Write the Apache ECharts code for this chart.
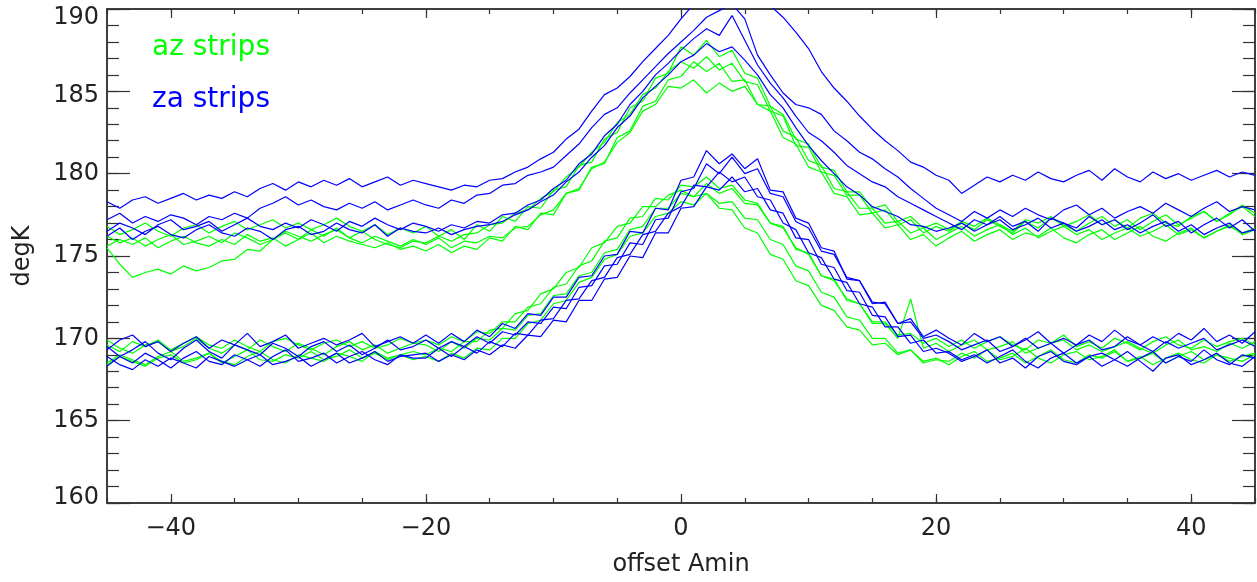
<!DOCTYPE html>
<html>
<head>
<meta charset="utf-8">
<script src="https://cdn.jsdelivr.net/npm/echarts@6/dist/echarts.min.js"></script>
<style>
html,body{margin:0;padding:0;background:#fff;}
#chart{width:1257px;height:582px;}
</style>
</head>
<body>
<div id="chart"></div>
<script>
// Sample offsets (arcmin) along each strip, -45 .. 45 step 1
const offsets = Array.from({length: 91}, (_, i) => i - 45);

// Lower set of strips (degK)
const azLow1 = [169.6,169.2,169.8,169.5,169.9,169.3,169.7,170.1,169.6,169.4,169.9,169.5,169.2,169.8,170.0,169.6,169.3,169.7,169.9,169.5,169.8,169.4,169.6,170.0,169.7,
169.9,169.6,170.1,169.8,170.4,170.3,171.0,171.0,171.9,172.1,173.1,173.3,174.4,174.7,175.9,176.1,177.3,177.4,178.5,178.4,
179.3,179.2,179.8,179.1,179.3,178.4,178.2,177.0,176.7,175.5,175.1,173.8,173.5,172.4,172.1,171.0,171.0,170.2,170.3,169.7,170.0,
169.5,169.9,169.4,169.8,170.1,169.6,169.3,169.9,169.7,170.2,169.5,169.8,169.4,170.0,169.7,169.3,169.8,170.1,169.6,169.4,169.9,169.5,169.8,170.0,169.6];
const azLow2 = [168.5,169.0,168.7,168.4,168.9,169.2,168.6,168.8,169.1,168.5,168.9,169.3,168.7,168.6,169.0,168.8,169.2,168.7,168.9,169.3,168.8,169.1,168.7,169.0,169.2,
169.0,169.4,169.2,169.8,169.8,170.5,170.6,171.5,171.7,172.7,173.0,174.0,174.3,175.5,175.8,176.8,177.0,178.0,178.0,178.7,
179.0,178.6,178.8,177.9,177.8,176.7,176.4,175.1,174.8,173.5,173.2,172.0,171.7,170.7,170.5,169.6,169.7,169.0,169.3,168.6,168.8,
168.4,168.9,169.2,168.6,168.8,169.1,168.5,168.9,169.3,168.7,168.5,169.0,168.8,169.2,168.6,168.9,168.4,168.8,169.1,168.7,168.5,169.0,168.8,168.6,169.0];
const azLow3 = [169.9,169.4,169.1,169.6,169.8,169.2,169.5,170.0,169.4,169.1,169.6,169.3,169.9,169.5,169.2,169.7,169.4,169.0,169.5,169.8,169.3,169.6,169.1,169.4,169.7,
169.6,169.2,169.8,169.4,170.0,169.9,170.6,170.5,171.4,171.5,172.6,172.7,173.8,174.0,175.2,175.4,176.6,176.8,177.9,177.9,
178.8,178.6,179.4,178.8,179.1,178.2,178.1,177.0,176.8,175.4,175.2,173.8,173.6,172.3,172.1,170.9,170.9,170.0,172.4,169.4,169.7,
169.2,169.6,169.9,169.3,169.5,169.8,169.1,169.4,169.7,169.9,169.3,169.6,169.2,169.5,169.8,169.4,169.1,169.6,169.9,169.3,169.5,169.2,169.7,169.4,169.8];
const azLow4 = [168.4,168.9,168.6,168.3,168.8,169.0,168.5,168.7,169.1,168.6,168.4,168.9,169.2,168.7,168.5,169.0,168.8,168.6,169.1,168.9,168.6,169.2,168.8,169.0,168.7,
168.9,168.6,169.1,168.8,169.4,169.3,170.0,170.0,170.9,171.1,172.1,172.3,173.4,173.7,174.8,175.1,176.2,176.4,177.4,177.6,
178.3,178.1,178.8,178.2,178.3,177.3,177.2,176.0,175.7,174.4,174.1,172.8,172.5,171.3,171.1,170.0,170.0,169.1,169.3,168.5,168.7,
168.6,169.1,168.8,169.3,168.7,168.9,169.4,168.8,168.5,169.0,169.2,168.7,168.9,169.3,168.6,168.8,169.1,168.5,168.9,169.2,168.7,169.0,168.6,168.9,169.1];
const zaLow1 = [169.5,168.9,169.3,169.8,169.1,168.7,169.4,169.9,169.2,168.8,169.6,169.3,169.0,169.7,169.4,168.9,169.5,169.8,169.2,169.6,169.0,169.4,169.9,169.3,169.5,
169.9,169.4,169.8,169.5,170.1,169.7,170.4,170.2,171.0,170.9,171.9,171.8,173.1,173.2,174.4,174.5,175.8,175.7,177.2,177.3,
178.9,179.1,180.6,180.0,181.0,180.0,180.3,178.8,178.6,177.1,176.7,175.3,175.1,173.7,173.5,172.2,172.1,170.9,171.0,170.0,170.2,
169.8,169.3,169.6,169.9,169.2,169.5,170.0,169.4,169.7,169.1,169.6,169.9,169.3,169.5,170.1,169.6,169.2,169.8,169.4,169.7,170.0,169.3,169.6,169.9,169.5];
const zaLow2 = [168.3,168.9,168.5,169.1,168.7,168.2,168.8,169.2,168.6,168.4,169.0,168.7,168.3,168.9,169.3,168.6,168.8,169.1,168.5,168.9,169.2,168.7,168.4,169.0,168.8,
168.8,169.4,168.9,169.5,169.1,169.8,169.5,170.3,170.2,171.1,171.2,172.3,172.4,173.5,173.7,174.9,175.1,176.3,176.5,177.6,
178.0,179.3,179.2,180.1,179.5,179.8,178.6,178.4,177.0,176.6,175.2,174.9,173.6,173.4,172.1,171.9,170.7,170.7,169.7,169.9,169.1,
169.2,168.7,169.0,168.5,168.9,169.3,168.6,168.2,168.8,169.1,168.5,168.9,168.3,168.7,169.2,168.6,168.0,168.8,169.0,168.4,168.7,169.1,168.5,168.3,168.9];
const zaLow3 = [169.3,169.9,170.2,169.5,169.8,169.2,169.7,170.1,169.4,169.9,169.6,170.3,169.5,169.8,170.2,169.4,169.7,170.0,169.6,169.9,170.3,169.5,169.8,170.1,169.7,
170.2,169.7,170.3,169.8,170.5,170.1,170.9,170.6,171.5,171.4,172.5,172.5,173.7,173.8,175.0,175.1,176.5,176.4,177.9,177.8,
179.6,179.8,181.4,180.6,181.2,180.3,180.9,179.0,178.9,177.3,177.0,175.5,175.3,173.6,173.5,172.1,172.2,170.9,171.2,170.1,170.5,
170.0,169.6,170.3,169.8,170.1,169.5,169.9,170.4,169.7,170.0,169.6,170.2,169.8,170.5,169.9,169.6,170.1,169.7,170.3,169.9,170.6,169.8,170.2,169.7,170.4];
const zaLow4 = [168.9,168.4,168.1,168.7,168.3,168.8,168.5,168.2,168.9,168.6,168.3,168.7,169.0,168.4,168.6,168.9,168.3,168.7,169.1,168.5,168.8,169.2,168.6,168.9,169.0,
169.1,168.6,169.0,168.7,169.3,169.0,169.6,169.4,170.2,170.1,171.1,171.0,172.3,172.3,173.6,173.7,175.0,174.9,176.4,176.4,
177.9,178.0,179.2,179.0,179.8,178.9,179.1,177.8,177.6,176.1,176.0,174.5,174.3,172.9,172.8,171.4,171.3,170.1,170.2,169.2,169.4,
169.1,168.6,168.9,169.3,168.5,168.8,168.2,168.9,169.2,168.6,168.4,168.9,169.1,168.7,168.3,168.8,169.2,168.5,168.9,168.6,169.3,168.7,168.4,169.0,168.8];

// Upper set of strips (degK)
const azHigh1 = [176.8,176.3,176.6,177.0,176.5,176.2,176.7,176.9,176.4,176.8,177.1,176.6,176.9,177.2,176.7,177.0,176.6,176.9,177.3,176.8,176.5,176.9,176.3,176.7,176.4,
176.8,176.2,176.6,176.0,176.9,176.5,177.4,177.1,178.0,177.9,179.0,179.2,180.5,180.7,182.1,182.5,184.0,184.4,185.8,186.1,
187.7,187.2,188.1,187.1,187.5,186.1,185.8,184.1,183.6,182.1,181.8,180.4,180.2,178.9,178.9,177.9,178.1,177.1,177.4,176.7,177.0,
176.6,177.1,176.8,177.3,176.9,176.5,177.2,177.0,177.4,176.8,177.1,177.5,176.9,177.2,176.7,177.3,177.6,177.0,176.8,177.4,177.7,177.1,177.5,178.1,177.6];
const azHigh2 = [176.2,175.8,176.1,175.6,176.0,176.3,175.7,175.9,176.2,175.8,176.4,176.1,175.7,176.0,176.5,176.2,175.9,176.3,176.6,176.1,175.8,176.2,175.9,175.6,176.0,
175.7,176.1,175.5,175.9,175.8,176.2,176.1,176.7,176.8,177.5,177.8,178.8,179.1,180.3,180.7,181.9,182.5,183.8,184.2,185.3,
185.2,185.7,184.9,185.5,185.0,185.3,184.2,184.1,182.6,182.2,180.8,180.5,179.1,178.9,177.9,177.9,177.0,177.1,176.4,176.7,176.0,
176.4,176.8,176.2,176.6,176.9,176.3,176.7,176.1,176.5,176.8,176.3,176.6,176.0,176.4,176.7,176.2,176.5,176.9,176.3,176.6,176.1,176.5,176.8,176.4,176.7];
const azHigh3 = [175.6,176.0,175.7,176.1,175.5,175.9,176.2,175.8,175.6,176.0,175.7,176.3,175.9,176.1,175.6,176.0,176.4,175.8,176.2,175.9,175.7,175.5,175.8,175.4,175.6,
175.3,175.7,175.2,175.6,175.4,176.1,175.9,176.8,176.6,177.6,177.5,178.8,179.0,180.4,180.6,182.2,182.6,184.1,184.4,185.7,
185.9,186.8,186.2,186.7,185.6,185.7,184.2,183.8,182.2,181.8,180.4,180.1,178.8,178.6,177.5,177.6,176.7,176.9,176.0,176.3,175.6,
176.1,176.5,175.9,176.3,176.6,176.0,176.4,176.2,176.7,176.1,175.8,176.3,176.6,176.0,176.4,176.8,176.2,175.9,176.4,176.7,176.1,176.5,176.9,176.3,176.6];
const azHigh4 = [175.5,174.5,173.7,174.0,174.2,173.9,174.4,174.1,174.3,174.7,174.8,175.4,175.3,176.0,176.4,176.0,176.6,176.2,176.7,176.1,176.5,176.0,175.7,175.5,175.9,
175.8,176.2,175.9,176.3,176.4,176.9,177.0,177.6,177.8,178.5,178.9,179.8,180.4,181.3,181.9,183.1,183.6,184.8,185.2,186.2,
186.8,186.4,187.1,186.3,186.7,185.6,185.4,183.8,183.5,181.7,181.6,180.1,179.9,178.7,178.7,177.6,177.8,176.9,177.2,176.4,176.8,
176.5,177.0,176.6,177.2,176.8,176.4,177.1,176.7,177.3,176.9,176.5,177.0,177.4,176.8,177.2,176.6,177.1,177.5,176.9,177.3,177.7,177.1,177.6,178.0,177.4];
const zaHigh1 = [178.3,177.9,178.4,178.6,178.2,178.5,178.8,178.4,178.7,178.5,178.9,178.6,179.1,179.4,179.0,179.5,179.2,179.6,179.3,179.7,179.2,179.5,179.8,179.3,179.6,
179.4,179.2,179.0,179.3,179.2,179.6,179.7,180.1,180.4,180.9,181.3,182.1,182.7,183.8,184.8,185.2,185.9,186.8,187.6,188.4,
189.4,190.3,190.6,190.4,190.9,190.5,190.7,190.2,189.5,188.6,187.6,186.2,185.2,184.4,183.5,182.7,182.0,181.4,180.7,180.4,179.9,
179.6,178.8,179.3,179.8,179.5,179.9,179.6,180.1,179.7,179.5,179.9,180.2,179.6,180.3,179.8,179.5,180.1,179.7,180.0,179.6,179.9,180.2,179.8,180.1,179.9];
const zaHigh2 = [177.2,177.6,177.0,177.4,177.1,177.5,177.3,176.9,177.4,177.2,177.6,177.3,177.9,178.2,178.6,178.1,178.4,178.0,177.8,178.2,177.9,178.3,177.8,178.1,178.4,
178.1,177.9,178.4,178.2,178.7,178.8,179.3,179.4,179.9,180.1,180.4,181.1,181.8,182.8,183.6,184.0,184.9,185.7,186.5,187.3,
188.0,188.7,189.5,189.9,190.3,189.4,187.2,186.0,184.9,184.2,184.0,183.6,182.6,182.0,181.3,180.9,180.3,179.8,179.1,178.5,177.9,
177.5,177.1,177.7,177.3,177.8,177.4,177.9,177.5,177.2,177.8,178.1,177.5,177.9,177.3,177.7,178.0,177.6,178.2,177.8,177.4,177.9,178.3,177.7,178.0,177.8];
const zaHigh3 = [176.5,177.0,176.7,176.3,176.9,177.2,176.6,176.8,177.1,176.5,176.9,177.3,176.8,176.6,177.0,176.7,177.2,176.9,176.5,177.1,176.8,177.3,176.9,176.6,177.0,
176.8,176.5,176.9,176.7,177.1,177.0,177.5,177.6,178.1,178.4,179.1,179.6,180.6,181.2,182.3,183.0,184.2,185.0,186.0,186.7,
187.5,188.2,188.8,188.4,189.6,188.1,186.6,185.5,184.6,183.5,182.5,182.0,181.3,180.5,180.0,179.5,179.2,178.6,178.2,177.8,177.4,
177.0,176.6,177.2,176.9,177.4,176.8,177.1,176.5,177.3,177.0,176.7,177.4,176.9,177.2,176.6,177.0,177.5,176.8,177.1,176.4,176.9,177.3,176.7,177.2,176.5];
const zaHigh4 = [176.2,176.7,176.0,176.5,176.8,176.3,176.1,176.6,176.9,176.4,176.2,176.7,176.5,176.0,176.6,176.8,176.3,176.5,177.0,176.6,176.4,176.9,176.2,176.7,176.5,
176.4,176.7,176.3,176.6,176.8,176.9,177.1,177.5,177.8,178.3,178.7,179.5,180.1,181.0,181.7,182.8,183.5,184.6,185.3,186.0,
186.8,187.2,187.9,187.4,187.7,186.9,186.0,184.8,184.0,182.8,181.7,180.8,180.0,179.2,178.7,178.0,177.7,177.4,176.9,176.8,176.5,
176.7,177.0,176.5,176.9,177.2,176.6,176.9,177.3,176.7,177.0,176.5,176.8,177.2,176.6,176.9,176.4,176.8,177.1,176.5,176.9,176.3,176.7,177.0,176.4,176.6];

const azStrips = [azLow1, azLow2, azLow3, azLow4, azHigh1, azHigh2, azHigh3, azHigh4];
const zaStrips = [zaLow1, zaLow2, zaLow3, zaLow4, zaHigh1, zaHigh2, zaHigh3, zaHigh4];

// Axis tick values
const xMajorTicks = [-40, -20, 0, 20, 40];
const legendLabels = ['az strips', 'za strips'];

const GREEN = '#00ff00';
const BLUE = '#0000ff';
const AXIS = '#333333';
const TEXT = '#222222';
const FONT = "'DejaVu Sans ExtraLight', 'DejaVu Sans'";

function pairs(ys) { return offsets.map((x, i) => [x, ys[i]]); }

const series = [];
azStrips.forEach((s, k) => series.push({
  type: 'line', name: 'az' + k, data: pairs(s), showSymbol: false, symbol: 'none',
  lineStyle: {color: GREEN, width: 1.2}, itemStyle: {color: GREEN},
  xAxisIndex: 0, yAxisIndex: 0, animation: false, silent: true, clip: true
}));
zaStrips.forEach((s, k) => series.push({
  type: 'line', name: 'za' + k, data: pairs(s), showSymbol: false, symbol: 'none',
  lineStyle: {color: BLUE, width: 1.2}, itemStyle: {color: BLUE},
  xAxisIndex: 0, yAxisIndex: 0, animation: false, silent: true, clip: true
}));

const lineStyle = {color: AXIS, width: 1.5};
const noSplit = {show: false};

function xAx(pos, minor, withLabels) {
  const a = {
    type: 'value', position: pos, min: -45, max: 45,
    splitLine: noSplit,
    axisLine: {show: true, onZero: false, lineStyle: lineStyle},
    axisTick: {show: true, inside: true, lineStyle: {color: AXIS, width: 1.2}},
    axisLabel: {show: false}
  };
  if (minor) {
    a.interval = 5;
    a.axisTick.length = 5;
  } else {
    a.axisTick.length = 9;
    a.axisTick.customValues = xMajorTicks;
  }
  if (withLabels) {
    a.axisLabel = {
      show: true, customValues: xMajorTicks, fontSize: 24, fontFamily: FONT, color: TEXT,
      margin: 14, formatter: v => String(v).replace('-', '\u2212')
    };
    a.name = 'offset Amin';
    a.nameLocation = 'middle';
    a.nameGap = 50;
    a.nameTextStyle = {fontSize: 24, fontFamily: FONT, color: TEXT};
  }
  return a;
}
const labelRich = {
  t: {fontSize: 24, fontFamily: FONT, color: TEXT, padding: [18, 0, 0, 0]},
  m: {fontSize: 24, fontFamily: FONT, color: TEXT, padding: [8, 0, 0, 0]},
  b: {fontSize: 24, fontFamily: FONT, color: TEXT, padding: [0, 0, 10, 0]},
  n: {fontSize: 24, fontFamily: FONT, color: TEXT}
};
function yAx(pos, minor, withLabels) {
  const a = {
    type: 'value', position: pos, min: 160, max: 190,
    interval: minor ? 1 : 5,
    splitLine: noSplit,
    axisLine: {show: true, onZero: false, lineStyle: lineStyle},
    axisTick: {show: true, inside: true, length: minor ? 12 : 23, lineStyle: {color: AXIS, width: 1.2}},
    axisLabel: {show: false}
  };
  if (withLabels) {
    a.axisLabel = {
      show: true, fontSize: 24, fontFamily: FONT, color: TEXT, margin: 8,
      formatter: v => (v === 190 ? '{t|' + v + '}' : v === 185 ? '{m|' + v + '}' : v === 160 ? '{b|' + v + '}' : '{n|' + v + '}'),
      rich: labelRich
    };
    a.name = 'degK';
    a.nameLocation = 'middle';
    a.nameRotate = 90;
    a.nameGap = 72;
    a.nameTextStyle = {fontSize: 24, fontFamily: FONT, color: TEXT};
  }
  return a;
}

const chart = echarts.init(document.getElementById('chart'), null, {renderer: 'canvas'});
chart.setOption({
  animation: false,
  backgroundColor: '#ffffff',
  grid: {left: 107, right: 2, top: 9, bottom: 77, containLabel: false},
  xAxis: [xAx('bottom', true, false), xAx('bottom', false, true), xAx('top', true, false), xAx('top', false, false)],
  yAxis: [yAx('left', false, true), yAx('left', true, false), yAx('right', false, false), yAx('right', true, false)],
  graphic: [
    {type: 'text', x: 152, y: 48, silent: true,
     style: {text: legendLabels[0], fill: GREEN, fontSize: 28, fontFamily: FONT, align: 'left', verticalAlign: 'middle'}},
    {type: 'text', x: 152, y: 100, silent: true,
     style: {text: legendLabels[1], fill: BLUE, fontSize: 28, fontFamily: FONT, align: 'left', verticalAlign: 'middle'}}
  ],
  series: series
});
</script>
</body>
</html>
